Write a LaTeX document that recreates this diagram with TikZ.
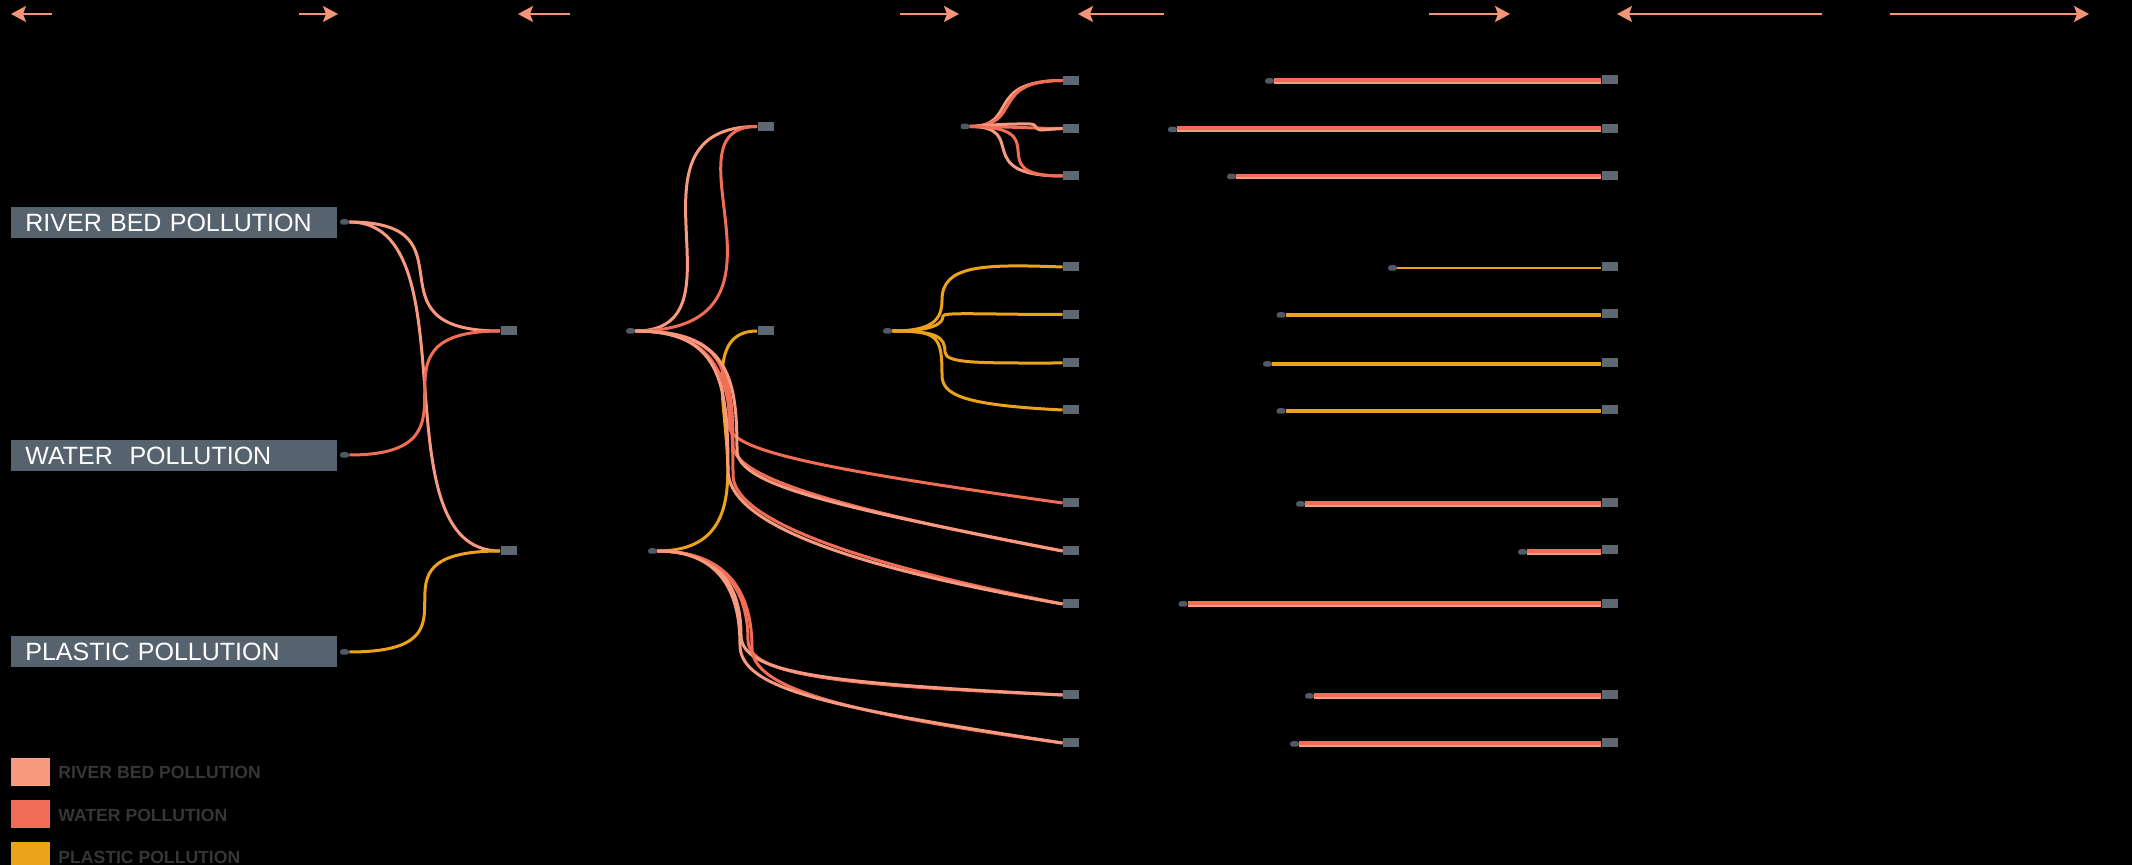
\documentclass[tikz,border=0pt]{standalone}
\usepackage{fontspec}
\setmainfont{Liberation Sans}
\usetikzlibrary{arrows.meta}

\definecolor{riverc}{HTML}{F79A80}
\definecolor{waterc}{HTML}{F26D55}
\definecolor{plasticc}{HTML}{EDA21B}
\definecolor{arrowc}{HTML}{F4957A}
\definecolor{boxc}{HTML}{56626E}
\definecolor{portc}{HTML}{4F5A64}
\definecolor{sinkc}{HTML}{5D6872}
\definecolor{legtext}{HTML}{363636}

\begin{document}
\begin{tikzpicture}[x=0.5pt, y=-0.5pt, >={Stealth[length=7.5pt,width=8pt,inset=1.5pt]},
  flow/.style={line width=1.5pt},
  riv/.style={flow, draw=riverc},
  wat/.style={flow, draw=waterc},
  pla/.style={flow, draw=plasticc},
  tag/.style={fill=boxc, text=white, anchor=west, minimum height=15.5pt, text width=149pt,
    inner xsep=7pt, inner ysep=0pt, align=left, font=\fontsize{12.5}{14}\selectfont},
  port/.style={fill=portc, rounded corners=1.3pt, minimum width=4.5pt, minimum height=2.75pt, inner sep=0pt},
  sink/.style={fill=sinkc, minimum width=8pt, minimum height=4.5pt, inner sep=0pt},
  swatch/.style={minimum width=19.5pt, minimum height=14pt, inner sep=0pt, anchor=north west},
  keytext/.style={anchor=west, text=legtext, inner sep=0pt, font=\bfseries\fontsize{8.8}{10}\selectfont},
  mixbar/.style={draw=waterc, line width=#1, postaction={draw=riverc, line width=1pt, transform canvas={yshift=-0.9pt}}},
  plabar/.style={draw=plasticc, line width=#1}]

  \useasboundingbox (0,0) rectangle (2132,865);
  \fill[black] (0,0) rectangle (2132,865);

  % top arrows
  \coordinate (a1s) at (52,14);   \coordinate (a1e) at (11,14);
  \coordinate (a2s) at (299,14);  \coordinate (a2e) at (338,14);
  \coordinate (a3s) at (570,14);  \coordinate (a3e) at (518,14);
  \coordinate (a4s) at (900,14);  \coordinate (a4e) at (959,14);
  \coordinate (a5s) at (1164,14); \coordinate (a5e) at (1078,14);
  \coordinate (a6s) at (1429,14); \coordinate (a6e) at (1510,14);
  \coordinate (a7s) at (1822,14); \coordinate (a7e) at (1617,14);
  \coordinate (a8s) at (1890,14); \coordinate (a8e) at (2089,14);
  \draw[->, arrowc, line width=1pt] (a1s) -- (a1e);
  \draw[->, arrowc, line width=1pt] (a2s) -- (a2e);
  \draw[->, arrowc, line width=1pt] (a3s) -- (a3e);
  \draw[->, arrowc, line width=1pt] (a4s) -- (a4e);
  \draw[->, arrowc, line width=1pt] (a5s) -- (a5e);
  \draw[->, arrowc, line width=1pt] (a6s) -- (a6e);
  \draw[->, arrowc, line width=1pt] (a7s) -- (a7e);
  \draw[->, arrowc, line width=1pt] (a8s) -- (a8e);

  % sources
  \node[tag] (river) at (11,222.5) {RIVER BED POLLUTION};
  \node[tag] (water) at (11,455.5) {WATER\ \ POLLUTION};
  \node[tag] (plastic) at (11,651.5) {PLASTIC POLLUTION};
  \node[port] (riverO) at (344.5,222) {};
  \node[port] (waterO) at (344.5,455) {};
  \node[port] (plasticO) at (344.5,652) {};

  % middle stages
  \node[sink] (mixA) at (508.5,331) {};
  \node[sink] (mixB) at (508.5,551) {};
  \node[port] (mixAo) at (630.5,331) {};
  \node[port] (mixBo) at (652.5,551) {};
  \node[sink] (grpA) at (765.5,126.5) {};
  \node[sink] (grpB) at (765.5,331) {};
  \node[port] (grpAo) at (965,126.5) {};
  \node[port] (grpBo) at (887.5,331) {};

  % targets
  \node[sink] (r1) at (1071,80.5) {};
  \node[sink] (r2) at (1071,128.5) {};
  \node[sink] (r3) at (1071,176) {};
  \node[sink] (y1) at (1071,267) {};
  \node[sink] (y2) at (1071,314.5) {};
  \node[sink] (y3) at (1071,363) {};
  \node[sink] (y4) at (1071,410) {};
  \node[sink] (w1) at (1071,503) {};
  \node[sink] (w2) at (1071,551) {};
  \node[sink] (w3) at (1071,604) {};
  \node[sink] (w4) at (1071,695) {};
  \node[sink] (w5) at (1071,743) {};

  % bars
  \node[port] (r1b) at (1269.5,81) {};   \node[sink] (r1e) at (1609.5,80) {};
  \node[port] (r2b) at (1172.5,129.5) {}; \node[sink] (r2e) at (1609.5,128.5) {};
  \node[port] (r3b) at (1231.5,176.5) {}; \node[sink] (r3e) at (1609.5,175.5) {};
  \node[port] (y1b) at (1392.5,268) {};  \node[sink] (y1e) at (1609.5,266.5) {};
  \node[port] (y2b) at (1281,315) {};    \node[sink] (y2e) at (1609.5,314) {};
  \node[port] (y3b) at (1267.5,364) {};  \node[sink] (y3e) at (1609.5,362.5) {};
  \node[port] (y4b) at (1281,411) {};    \node[sink] (y4e) at (1609.5,409.5) {};
  \node[port] (w1b) at (1300.5,504) {};  \node[sink] (w1e) at (1609.5,502.5) {};
  \node[port] (w2b) at (1522.5,552) {};  \node[sink] (w2e) at (1609.5,550) {};
  \node[port] (w3b) at (1183,604) {};    \node[sink] (w3e) at (1609.5,603.5) {};
  \node[port] (w4b) at (1309.5,696) {};  \node[sink] (w4e) at (1609.5,694.5) {};
  \node[port] (w5b) at (1294.5,744) {};  \node[sink] (w5e) at (1609.5,742.5) {};
  \draw[mixbar=3pt] (r1b.east) -- (r1b.east -| r1e.west);
  \draw[mixbar=3pt] (r2b.east) -- (r2b.east -| r2e.west);
  \draw[mixbar=2.5pt] (r3b.east) -- (r3b.east -| r3e.west);
  \draw[plabar=1.2pt] (y1b.east) -- (y1b.east -| y1e.west);
  \draw[plabar=1.8pt] (y2b.east) -- (y2b.east -| y2e.west);
  \draw[plabar=2pt] (y3b.east) -- (y3b.east -| y3e.west);
  \draw[plabar=1.8pt] (y4b.east) -- (y4b.east -| y4e.west);
  \draw[mixbar=2.5pt] (w1b.east) -- (w1b.east -| w1e.west);
  \draw[mixbar=2.5pt] (w2b.east) -- (w2b.east -| w2e.west);
  \draw[mixbar=3pt] (w3b.east) -- (w3b.east -| w3e.west);
  \draw[mixbar=2.5pt] (w4b.east) -- (w4b.east -| w4e.west);
  \draw[mixbar=2.5pt] (w5b.east) -- (w5b.east -| w5e.west);

  % flows
  \draw[riv] (riverO.east) .. controls +(130,0) and +(-140,0) .. (mixA.west);
  \draw[riv] (riverO.east) .. controls +(125,0) and +(-125,0) .. (mixB.west);
  \draw[wat] (waterO.east) .. controls +(150,0) and +(-150,0) .. (mixA.west);
  \draw[pla] (plasticO.east) .. controls +(150,0) and +(-150,0) .. (mixB.west);

  \draw[riv] (mixAo.east) .. controls +(117,0) and +(-144,0) .. (grpA.west);
  \draw[wat] (mixAo.east) .. controls +(180,0) and +(-100,0) .. (grpA.west);
  \draw[pla] (mixBo.east) .. controls +(143,0) and +(-92,0) .. (grpB.west);
  \draw[wat] (mixAo.east) .. controls +(85,0) and +(0,-60) .. (729,425) .. controls +(0,25) and +(-250,-35) .. (w1.west);
  \draw[wat] (mixAo.east) .. controls +(88,0) and +(0,-75) .. (733,445) .. controls +(0,30) and +(-240,-45) .. (w2.west);
  \draw[riv] (mixAo.east) .. controls +(92,0) and +(0,-75) .. (737,450) .. controls +(0,35) and +(-230,-45) .. (w2.west);
  \draw[wat] (mixAo.east) .. controls +(88,0) and +(0,-90) .. (733,475) .. controls +(0,40) and +(-230,-45) .. (w3.west);
  \draw[riv] (mixAo.east) .. controls +(84,0) and +(0,-90) .. (728,470) .. controls +(0,50) and +(-230,-40) .. (w3.west);
  \draw[wat] (mixBo.east) .. controls +(70,0) and +(0,-45) .. (748,640) .. controls +(0,35) and +(-230,-10) .. (w4.west);
  \draw[riv] (mixBo.east) .. controls +(65,0) and +(0,-45) .. (741,635) .. controls +(0,40) and +(-230,-12) .. (w4.west);
  \draw[wat] (mixBo.east) .. controls +(75,0) and +(0,-50) .. (752,648) .. controls +(0,40) and +(-220,-30) .. (w5.west);
  \draw[riv] (mixBo.east) .. controls +(65,0) and +(0,-50) .. (740,645) .. controls +(0,45) and +(-230,-35) .. (w5.west);

  \draw[riv] (grpAo.east) .. controls +(50,0) and +(-80,0) .. (r1.west);
  \draw[wat] (grpAo.east) .. controls +(55,0) and +(-75,0) .. (r1.west);
  \draw[wat] (grpAo.east) .. controls +(40,0) and +(-30,0) .. (r2.west);
  \draw[riv] (grpAo.east) .. controls +(40,-3) and +(-10,0) .. (1030,124) .. controls +(8,0) and +(-8,0) .. (1042,130) -- (r2.west);
  \draw[riv] (grpAo.east) .. controls +(61,0) and +(-94,0) .. (r3.west);
  \draw[wat] (grpAo.east) .. controls +(91,0) and +(-86,0) .. (r3.west);

  \draw[pla] (grpBo.east) .. controls +(40,0) and +(0,20) .. (942,300) .. controls +(0,-35) and +(-80,-3) .. (y1.west);
  \draw[pla] (grpBo.east) .. controls +(40,0) and +(0,8) .. (943,316) .. controls +(0,-4) and +(-80,0) .. (y2.west);
  \draw[pla] (grpBo.east) .. controls +(45,0) and +(0,-15) .. (945,352) .. controls +(0,12) and +(-80,0) .. (y3.west);
  \draw[pla] (grpBo.east) .. controls +(45,0) and +(0,-40) .. (942,375) .. controls +(0,20) and +(-100,-5) .. (y4.west);

  % legend
  \node[swatch, fill=riverc] (kRiver) at (11,758) {};
  \node[swatch, fill=waterc] (kWater) at (11,800) {};
  \node[swatch, fill=plasticc] (kPlastic) at (11,842) {};
  \node[keytext] (tRiver) at (58,772) {RIVER BED POLLUTION};
  \node[keytext] (tWater) at (58,815) {WATER POLLUTION};
  \node[keytext] (tPlastic) at (58,857) {PLASTIC POLLUTION};
\end{tikzpicture}
\end{document}
